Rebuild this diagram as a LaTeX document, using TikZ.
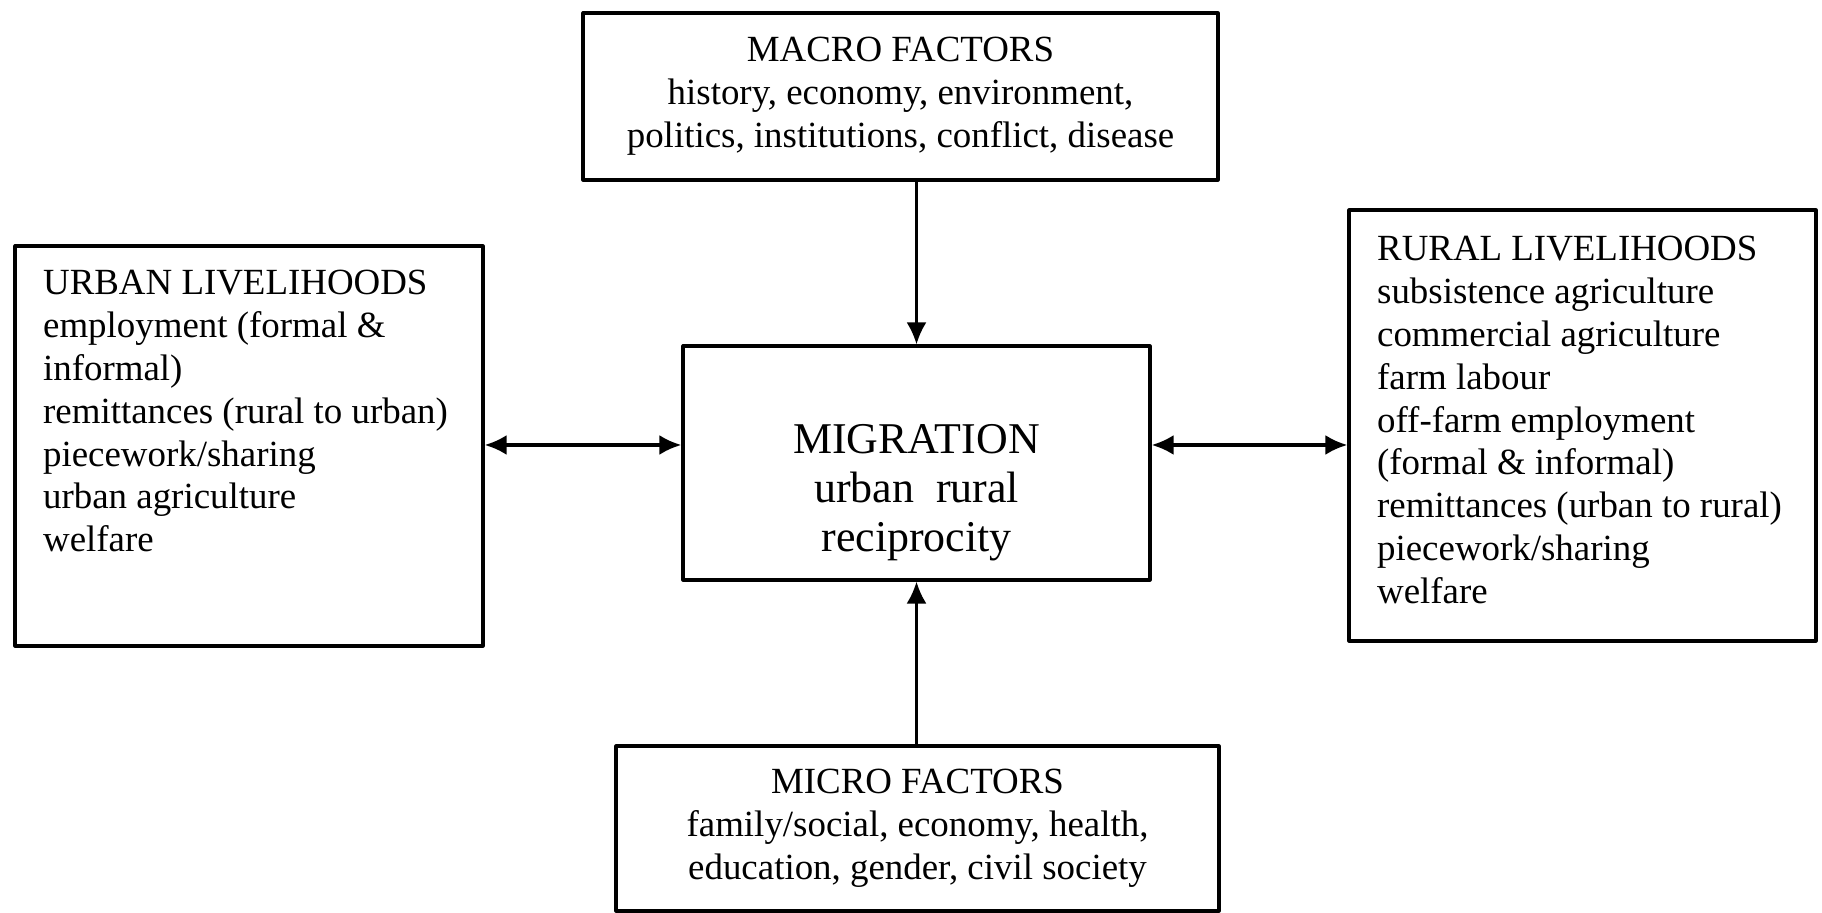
\documentclass[tikz,border=0pt]{standalone}
\usepackage{fontspec}
\setmainfont{Liberation Serif}
\usetikzlibrary{arrows.meta}

\begin{document}
\begin{tikzpicture}[x=1cm,y=1cm,line cap=round,line join=round,
    box/.style={draw,line width=0.9pt,inner sep=0pt},
    boxtext/.style={font=\fontsize{10.5}{12.2}\selectfont},
    link/.style={line width=0.8pt,-{Latex[length=2.2mm,width=2mm]}},
    twolink/.style={line width=1pt,{Latex[length=2.2mm,width=2mm]}-{Latex[length=2.2mm,width=2mm]}}]
        \useasboundingbox (0,0) rectangle (18.22,9.13);

        % Centre
        \node[box,minimum width=4.67cm,minimum height=2.34cm] (migration) at (9.165,4.50) {};
        \node[font=\fontsize{12.5}{14}\selectfont,align=center] (migtext)
            at ([yshift=-0.30cm]migration.center) {MIGRATION\\urban\ \ rural\\reciprocity};

        % Macro and micro factors
        \node[box,boxtext,align=center,minimum width=6.35cm,minimum height=1.67cm] (macro)
            at (9.005,8.165) {MACRO FACTORS\\history, economy, environment,\\politics, institutions, conflict, disease};
        \node[box,boxtext,align=center,minimum width=6.03cm,minimum height=1.65cm] (micro)
            at (9.175,0.845) {MICRO FACTORS\\family/social, economy, health,\\education, gender, civil society};

        % Livelihoods
        \node[box,minimum width=4.68cm,minimum height=4.00cm] (urban) at (2.49,4.67) {};
        \node[boxtext,align=left,anchor=north west,inner sep=0pt] (urbantext)
            at ([xshift=0.29cm,yshift=-0.25cm]urban.north west)
            {URBAN LIVELIHOODS\\employment (formal \&\\informal)\\remittances (rural to urban)\\piecework/sharing\\urban agriculture\\welfare};
        \node[box,minimum width=4.67cm,minimum height=4.31cm] (rural) at (15.825,4.875) {};
        \node[boxtext,align=left,anchor=north west,inner sep=0pt] (ruraltext)
            at ([xshift=0.29cm,yshift=-0.27cm]rural.north west)
            {RURAL LIVELIHOODS\\subsistence agriculture\\commercial agriculture\\farm labour\\off-farm employment\\(formal \& informal)\\remittances (urban to rural)\\piecework/sharing\\welfare};

        % Arrows
        \coordinate (level) at (9.165,4.68);
        \draw[link] (macro.south -| migration.north) -- (migration.north);
        \draw[link] (micro.north -| migration.south) -- (migration.south);
        \draw[twolink] (urban.east |- level) -- (migration.west |- level);
        \draw[twolink] (migration.east |- level) -- (rural.west |- level);

    \end{tikzpicture}
\end{document}
